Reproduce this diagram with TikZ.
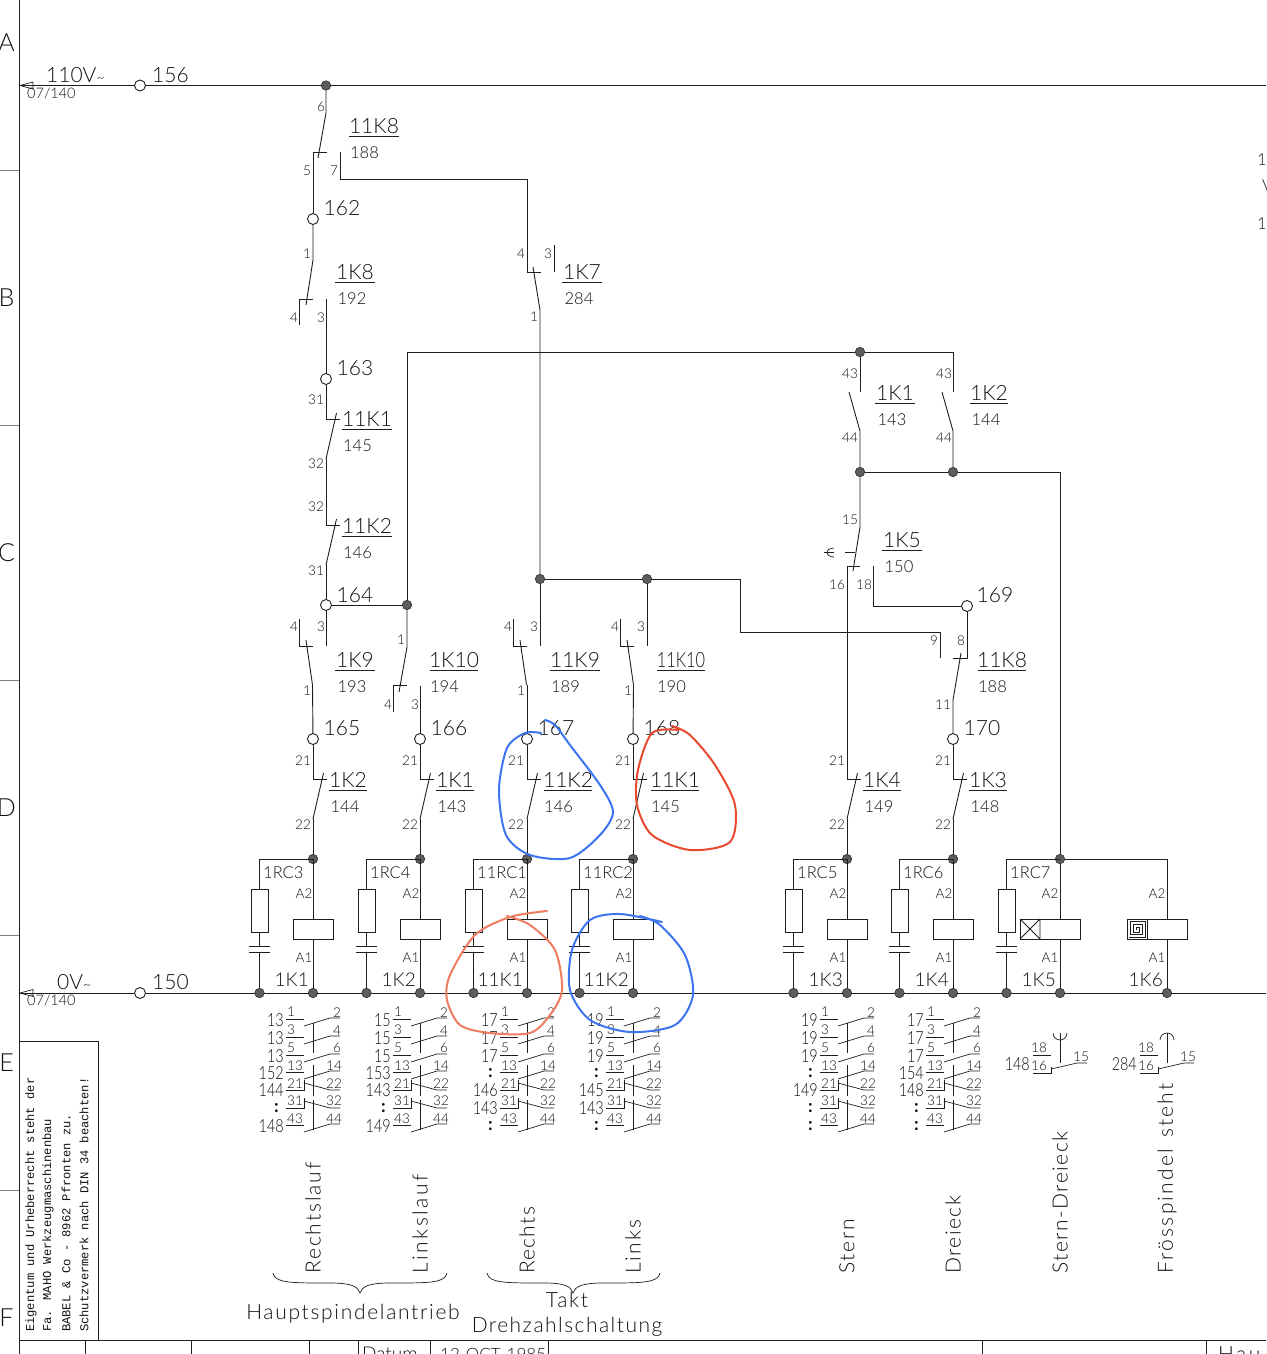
\documentclass[tikz,border=0pt]{standalone}
\usepackage{fontspec}
\usepackage{graphicx}
\setmainfont{Lato}[UprightFont=* Light,WordSpace=1.3]
\newfontfamily\cadmono{Liberation Mono}
\newfontfamily\cadreg{Lato}
\usetikzlibrary{calc}
\definecolor{ink}{HTML}{1E1E1E}
\definecolor{txt}{HTML}{111111}
\definecolor{hblue}{HTML}{3D74F0}
\definecolor{horange}{HTML}{E8492F}
\definecolor{hsalmon}{HTML}{EE7C60}
\tikzset{
  wire/.style={draw=ink,line width=0.9pt},
  thin wire/.style={draw=ink,line width=0.7pt},
  jn/.style={circle,draw=ink,fill=ink!72,line width=0.5pt,inner sep=0pt,minimum size=9.5pt},
  cir/.style={circle,draw=ink,fill=white,line width=0.9pt,inner sep=0pt,minimum size=11pt},
  box/.style={draw=ink,line width=0.9pt,fill=white},
  lbl/.style={inner sep=0pt,text=txt},
  big/.style={lbl,font=\fontsize{21}{21}\selectfont},
  mid/.style={lbl,font=\fontsize{16.5}{16.5}\selectfont},
  pin/.style={lbl,font=\fontsize{13.5}{13.5}\selectfont},
  coilname/.style={lbl,anchor=east,font=\fontsize{19}{19}\selectfont},
  blk/.style={lbl,font=\fontsize{18}{18}\selectfont\addfontfeatures{FakeStretch=0.8},anchor=east},
  hand/.style={line width=2pt,line cap=round,line join=round},
  wordv/.style={lbl,font=\fontsize{21}{21}\selectfont\addfontfeatures{LetterSpace=#1},rotate=90,anchor=west},
  wordh/.style={lbl,font=\fontsize{21}{21}\selectfont\addfontfeatures{LetterSpace=#1}},
  legal/.style={lbl,font=\cadmono\fontsize{12.1}{12.1}\selectfont,rotate=90,anchor=west},
}
\newcommand\cln{{\cadreg\bfseries:}\kern5pt}
\newcounter{tc}
% text: style, x, y, content
\newcommand\tx[4]{\stepcounter{tc}\node[#1] (t\arabic{tc}) at (#2,#3) {#4};}
% designation with underline and reference number: x, y, name, half-width, ref
\newcommand\desig[5]{\tx{big}{#1}{#2}{#3}
  \draw[thin wire] (#1-#4,#2+10.5) -- (#1+#4,#2+10.5);
  \pgfmathsetmacro\rx{#1-3-6.5*(#4>22)}
  \tx{mid}{\rx}{#2+26.5}{#5}}
% normally closed contact: x, y
\newcommand\nc[2]{\draw[wire] (#1,#2) -- ++(13.5,0);
  \draw[wire] (#1+10.5,#2-6) -- (#1,#2+40);}
% change-over contact, hanging from the wire at x; output at x-13.5
\newcommand\chg[2]{\draw[wire] (#1-27,#2-27) -- (#1-27,#2) -- (#1-13.5,#2);
  \draw[wire] (#1-20,#2-6) -- (#1-13.5,#2+39);}
\newcommand\rc[2]{% x, label
  \node[jn] (rcb#1) at (#1-53.5,993) {};
  \node[box,minimum width=17pt,minimum height=43pt,inner sep=0pt] (rcr#1) at (#1-53.5,911) {};
  \coordinate (rct#1) at (#1-53.5,859);
  \coordinate (capa#1) at (#1-53.5,946);
  \coordinate (capb#1) at (#1-53.5,952);
  \draw[wire] (#1,859) -- (rct#1) -- (rcr#1.north);
  \draw[wire] (rcr#1.south) -- (capa#1);
  \draw[wire] (capb#1) -- (rcb#1);
  \draw[wire] ($(capa#1)+(-10.5,0)$) -- ($(capa#1)+(10.5,0)$);
  \draw[wire] ($(capb#1)+(-10.5,0)$) -- ($(capb#1)+(10.5,0)$);
  \tx{mid,anchor=west}{#1-50}{873}{#2}}
\newcommand\coil[2]{% x, name
  \node[jn] (cb#1) at (#1,993) {};
  \node[box,minimum width=40pt,minimum height=20pt,inner sep=0pt] (coil#1) at (#1,929) {};
  \draw[wire] (#1,859) -- (coil#1.north);
  \draw[wire] (coil#1.south) -- (cb#1);
  \tx{pin}{#1-9}{894}{A2}
  \tx{pin}{#1-9}{958}{A1}
  \tx{coilname}{#1-4}{980}{#2}}
% auxiliary contact rows
\newcommand\noR[2]{%
  \draw[thin wire] (#1-27,#2) -- (#1-9,#2);
  \draw[thin wire] (#1-9,#2+7) -- (#1+17,#2-1) -- (#1+27,#2-1);}
\newcommand\ncR[2]{%
  \draw[thin wire] (#1-27,#2) -- (#1-9,#2) -- (#1-9,#2-10);
  \draw[thin wire] (#1-9,#2-7) -- (#1+17,#2) -- (#1+27,#2);}
\newcommand\aux[8]{% x, seven references
  \draw[thin wire] (#1,1023) -- (#1,1053) (#1,1065) -- (#1,1096) (#1,1100) -- (#1,1130);
  \noR{#1}{1019}\noR{#1}{1037}\noR{#1}{1055}\noR{#1}{1072}\ncR{#1}{1090}\ncR{#1}{1108}\noR{#1}{1125}
  \tx{pin}{#1-22}{1012}{1}\tx{pin}{#1-22}{1030}{3}\tx{pin}{#1-22}{1048}{5}
  \tx{pin}{#1-18}{1066}{13}\tx{pin}{#1-18}{1084}{21}\tx{pin}{#1-18}{1101}{31}\tx{pin}{#1-18}{1119}{43}
  \tx{pin}{#1+24}{1013}{2}\tx{pin}{#1+24}{1031}{4}\tx{pin}{#1+24}{1048}{6}
  \tx{pin}{#1+21}{1066}{14}\tx{pin}{#1+21}{1084}{22}\tx{pin}{#1+21}{1101}{32}\tx{pin}{#1+21}{1119}{44}
  \tx{blk}{#1-29}{1020}{#2}\tx{blk}{#1-29}{1038}{#3}\tx{blk}{#1-29}{1056}{#4}
  \tx{blk}{#1-29}{1073}{#5}\tx{blk}{#1-29}{1090}{#6}\tx{blk}{#1-29}{1108}{#7}\tx{blk}{#1-29}{1126}{#8}}
\newcommand\auxS[2]{% x, ref
  \draw[thin wire] (#1,1033) -- (#1,1063);
  \draw[thin wire] (#1-27,1055) -- (#1-9,1055);
  \draw[thin wire] (#1-27,1073) -- (#1-9,1073) -- (#1-9,1067);
  \draw[thin wire] (#1-9,1069) -- (#1+17,1063) -- (#1+27,1063);
  \tx{pin}{#1-21}{1048}{18}\tx{pin}{#1-21}{1066}{16}\tx{pin}{#1+21}{1057}{15}
  \tx{blk}{#1-30}{1064}{#2}}
\begin{document}
\begin{tikzpicture}[x=1pt,y=-1pt]
\useasboundingbox (0,0) rectangle (1266,1354);
\fill[white] (0,0) rectangle (1266,1354);

% ---------- frame
\draw[wire] (19,0) -- (19,1354);
\foreach \y in {170,425,680,935,1190} \draw[thin wire,gray] (0,\y) -- (19,\y);
\foreach \l/\y in {A/43,B/298,C/553,D/808,E/1063,F/1318}
  {\node[big,font=\fontsize{25}{25}\selectfont] (zone\l) at (6.5,\y) {\l};}
\draw[wire] (19,1340) -- (1266,1340);
\foreach \x in {85,191,309,358,430,548,982,1206} \draw[thin wire] (\x,1340) -- (\x,1354);
\draw[thin wire] (19,1041) -- (98,1041) -- (98,1340);
\tx{legal}{31}{1332}{Eigentum und Urheberrecht steht der}
\tx{legal}{48}{1332}{Fa. MAHO Werkzeugmaschinenbau}
\tx{legal}{66}{1332}{BABEL \& Co - 8962 Pfronten zu.}
\tx{legal}{84}{1332}{Schutzvermerk nach DIN 34 beachten!}
\tx{big,anchor=base west,font=\fontsize{19}{19}\selectfont}{362}{1360}{Datum}
\tx{big,anchor=base west,font=\fontsize{17}{17}\selectfont}{440}{1360}{12 OCT 1985}
\tx{wordh=12,anchor=base west}{1218}{1361}{Hau}
\tx{mid,anchor=west}{1257}{160}{13}
\tx{mid,anchor=west}{1262}{186}{V}
\tx{mid,anchor=west}{1257}{224}{14}

% ---------- rails
\node[cir] (c156) at (140,85.5) {};
\node[cir] (c150) at (140,993) {};
\coordinate (railTL) at (19,85.5);
\coordinate (railTR) at (1266,85.5);
\coordinate (railBL) at (19,993);
\coordinate (railBR) at (1266,993);
\draw[wire] (railTL) -- (c156) (c156) -- (railTR);
\draw[wire] (railBL) -- (c150) (c150) -- (railBR);
\draw[thin wire] (20,85.5) -- (33,82) -- (33,89) -- cycle;
\draw[thin wire] (20,993) -- (33,989.5) -- (33,996.5) -- cycle;
\tx{big,anchor=west}{46}{75}{110V{\fontsize{14}{14}\selectfont\textasciitilde}}
\tx{big,anchor=west}{152}{75}{156}
\tx{mid,anchor=west,font=\fontsize{14.5}{14.5}\selectfont}{27}{94}{07/140}
\tx{big,anchor=west}{57}{982}{0V{\fontsize{14}{14}\selectfont\textasciitilde}}
\tx{big,anchor=west}{152}{982}{150}
\tx{mid,anchor=west,font=\fontsize{14.5}{14.5}\selectfont}{27}{1001}{07/140}

% ---------- junctions and wire points
\node[jn] (j326) at (326,85.5) {};
\node[jn] (j407) at (407,605) {};
\node[jn] (j540) at (540,579) {};
\node[jn] (j647) at (647,579) {};
\node[jn] (j860a) at (860,352) {};
\node[jn] (j860b) at (860,472) {};
\node[jn] (j953) at (953,472) {};
\foreach \x in {313,420,527,633,847,953,1060} {\node[jn] (top\x) at (\x,859) {};}
\node[cir] (c162) at (313,219) {};
\node[cir] (c163) at (326,379) {};
\node[cir] (c164) at (326,605) {};
\node[cir] (c165) at (313,739) {};
\node[cir] (c166) at (420,739) {};
\node[cir] (c167) at (527,739) {};
\node[cir] (c168) at (633,739) {};
\node[cir] (c169) at (967,606) {};
\node[cir] (c170) at (953,739) {};
\tx{big}{342}{208}{162}
\tx{big}{355}{368}{163}
\tx{big}{355}{595}{164}
\tx{big}{342}{728}{165}
\tx{big}{449}{728}{166}
\tx{big}{556}{728}{167}
\tx{big}{662}{728}{168}
\tx{big}{995}{595}{169}
\tx{big}{982}{728}{170}

% ---------- first column
\draw[wire] (j326) -- (326,113) -- (318,158);
\draw[wire] (313,152) -- (327,152);
\draw[wire] (313,152) -- (c162);
\draw[wire] (c162) -- (313,260) -- (306,305);
\draw[wire] (313,299) -- (299.5,299) -- (299.5,325);
\draw[wire] (326,299) -- (c163);
\draw[wire] (c163) -- (326,419);
\nc{326}{419}
\draw[wire] (326,459) -- (326,525);
\nc{326}{525}
\draw[wire] (326,565) -- (c164);
\draw[wire] (340,152) -- (340,179) -- (527,179) -- (527,272) -- (541,272);
\draw[wire] (533,267) -- (540,310) -- (j540);
\draw[wire] (554,245) -- (554,272);
\draw[wire] (c164) -- (j407);
\draw[wire] (j407) |- (j860a);
\draw[wire] (j860a) -| (953,392);
% -------- 3/4 contacts
\draw[wire] (c164) -- (326,646);
\chg{326}{646}
\draw[wire] (312.5,685) -- (c165);
\draw[wire] (c165) -- (313,779); \nc{313}{779} \draw[wire] (313,819) -- (top313);
\draw[wire] (j407) -- (407,647) -- (399,692);
\draw[wire] (407,685.5) -- (393,685.5) -- (393,712);
\draw[wire] (420,685.5) -- (c166);
\draw[wire] (c166) -- (420,779); \nc{420}{779} \draw[wire] (420,819) -- (top420);
\draw[wire] (j540) -- (540,646);
\chg{540}{646}
\draw[wire] (527,685) -- (c167);
\draw[wire] (c167) -- (527,779); \nc{527}{779} \draw[wire] (527,819) -- (top527);
\draw[wire] (j647) -- (647,646);
\chg{647}{646}
\draw[wire] (633.5,685) -- (c168);
\draw[wire] (c168) -- (633,779); \nc{633}{779} \draw[wire] (633,819) -- (top633);
\draw[wire] (j540) -- (j647);
\draw[wire] (j647) -- (740,579) -- (740,632) -- (940,632) -- (940,658);
% -------- right part
\draw[wire] (j860a) -- (860,392);
\draw[wire] (849,392) -- (860,431) -- (j860b);
\draw[wire] (942,392) -- (953,431) -- (j953);
\draw[wire] (j860b) -- (j953);
\draw[wire] (j953) -- (1060,472) -- (top1060);
\draw[wire] (j860b) -- (860,527) -- (853,571);
\draw[wire] (860,566) -- (847,566) -- (847,779);
\nc{847}{779} \draw[wire] (847,819) -- (top847);
\draw[wire] (845,552) -- (855,552);
\draw[thin wire] (834,548) arc[start angle=270,end angle=90,x radius=7,y radius=4.5];
\draw[thin wire] (824,552.5) -- (834,552.5);
\draw[wire] (873,566) -- (873,606) -- (c169);
\draw[wire] (c169) -- (967,658) -- (953,658);
\draw[wire] (961,653) -- (953,700) -- (c170);
\draw[wire] (c170) -- (953,779); \nc{953}{779} \draw[wire] (953,819) -- (top953);

% ---------- designations
\desig{374}{126}{11K8}{25}{188}
\desig{355}{272}{1K8}{20}{192}
\desig{582}{272}{1K7}{20}{284}
\desig{367}{419}{11K1}{25}{145}
\desig{367}{526}{11K2}{25}{146}
\desig{355}{660}{1K9}{20}{193}
\desig{454}{660}{1K10}{24}{194}
\desig{575}{660}{11K9}{25}{189}
\desig{681}{660}{\scalebox{.78}[1]{11K10}}{24}{190}
\desig{1002}{660}{11K8}{24}{188}
\desig{895}{393}{1K1}{20}{143}
\desig{989}{393}{1K2}{19}{144}
\desig{902}{540}{1K5}{20}{150}
\desig{348}{780}{1K2}{19}{144}
\desig{455}{780}{1K1}{19}{143}
\desig{568}{780}{11K2}{24}{146}
\desig{675}{780}{11K1}{24}{145}
\desig{882}{780}{1K4}{19}{149}
\desig{988}{780}{1K3}{19}{148}

% ---------- pin numbers
\tx{pin}{321}{107}{6}\tx{pin}{307}{171}{5}\tx{pin}{334}{171}{7}
\tx{pin}{307}{254}{1}\tx{pin}{294}{318}{4}\tx{pin}{321}{318}{3}
\tx{pin}{521}{254}{4}\tx{pin}{548}{254}{3}\tx{pin}{534}{317}{1}
\tx{pin}{316}{400}{31}\tx{pin}{316}{464}{32}\tx{pin}{316}{507}{32}\tx{pin}{316}{571}{31}
\tx{pin}{294}{627}{4}\tx{pin}{321}{627}{3}\tx{pin}{307}{691}{1}
\tx{pin}{401}{640}{1}\tx{pin}{388}{705}{4}\tx{pin}{415}{705}{3}
\tx{pin}{508}{627}{4}\tx{pin}{534}{627}{3}\tx{pin}{521}{691}{1}
\tx{pin}{615}{627}{4}\tx{pin}{641}{627}{3}\tx{pin}{628}{691}{1}
\foreach \x in {303,410,516,623,837,943} {\tx{pin}{\x}{761}{21}\tx{pin}{\x}{825}{22}}
\tx{pin}{850}{374}{43}\tx{pin}{850}{438}{44}
\tx{pin}{944}{374}{43}\tx{pin}{944}{438}{44}
\tx{pin}{850}{520}{15}\tx{pin}{837}{585}{16}\tx{pin}{864}{585}{18}
\tx{pin}{934}{641}{9}\tx{pin}{961}{641}{8}\tx{pin}{943}{705}{11}

% ---------- coils
\rc{313}{1RC3}\coil{313}{1K1}
\rc{420}{1RC4}\coil{420}{1K2}
\rc{527}{11RC1}\coil{527}{11K1}
\rc{633}{11RC2}\coil{633}{11K2}
\rc{847}{1RC5}\coil{847}{1K3}
\rc{953}{1RC6}\coil{953}{1K4}
\rc{1060}{1RC7}
\node[jn] (cb1060) at (1060,993) {};
\node[box,minimum width=60pt,minimum height=20pt,inner sep=0pt] (coil1060) at (1050,929) {};
\draw[wire] (top1060) -- (coil1060.north -| top1060);
\draw[wire] (coil1060.south -| top1060) -- (cb1060);
\draw[wire] (1040,919) -- (1040,939) (1020,919) -- (1040,939) (1020,939) -- (1040,919);
\tx{pin}{1050}{894}{A2}\tx{pin}{1050}{958}{A1}
\tx{coilname}{1056}{980}{1K5}
\coordinate (top1167) at (1167,859);
\node[jn] (cb1167) at (1167,993) {};
\node[box,minimum width=60pt,minimum height=20pt,inner sep=0pt] (coil1167) at (1157,929) {};
\draw[wire] (top1060) -- (top1167) -- (coil1167.north -| top1167);
\draw[wire] (coil1167.south -| top1167) -- (cb1167);
\draw[wire] (1147,919) -- (1147,939);
\draw[thin wire] (1129,937) -- (1145,937) -- (1145,921) -- (1130,921) -- (1130,934.5) -- (1142,934.5) -- (1142,924) -- (1133,924) -- (1133,932) -- (1139,932) -- (1139,927) -- (1136,927) -- (1136,929.5);
\tx{pin}{1157}{894}{A2}\tx{pin}{1157}{958}{A1}
\tx{coilname}{1163}{980}{1K6}

% ---------- auxiliary contacts
\aux{313}{13}{13}{13}{152}{144}{\cln}{148}
\aux{420}{15}{15}{15}{153}{143}{\cln}{149}
\aux{527}{17}{17}{17}{\cln}{146}{143}{\cln}
\aux{633}{19}{19}{19}{\cln}{145}{143}{\cln}
\aux{847}{19}{19}{19}{\cln}{149}{\cln}{\cln}
\aux{953}{17}{17}{17}{154}{148}{\cln}{\cln}
\auxS{1060}{148}
\draw[thin wire] (1053,1033) arc[start angle=180,end angle=0,radius=7];
\auxS{1167}{284}
\draw[thin wire] (1160,1040) arc[start angle=180,end angle=360,radius=7];

% ---------- words
\tx{wordv=9}{313}{1274}{Rechtslauf}
\tx{wordv=12}{420}{1274}{Linkslauf}
\tx{wordv=6}{527}{1274}{Rechts}
\tx{wordv=10}{633}{1274}{Links}
\tx{wordv=8}{847}{1274}{Stern}
\tx{wordv=7}{953}{1274}{Dreieck}
\tx{wordv=7}{1060}{1274}{Stern-Dreieck}
\tx{wordv=11}{1167}{1274}{Frösspindel steht}
\draw[thin wire] (273,1273) .. controls (275,1283) and (290,1283) .. (330,1283) .. controls (350,1283) and (358,1286) .. (360,1293) .. controls (362,1286) and (370,1283) .. (390,1283) .. controls (430,1283) and (445,1283) .. (447,1273);
\draw[thin wire] (487,1273) .. controls (489,1283) and (504,1283) .. (544,1283) .. controls (564,1283) and (571,1286) .. (573,1293) .. controls (575,1286) and (583,1283) .. (603,1283) .. controls (643,1283) and (658,1283) .. (660,1273);
\tx{wordh=8}{353}{1314}{Hauptspindelantrieb}
\tx{wordh=8}{567}{1300}{Takt}
\tx{wordh=7}{567}{1327}{Drehzahlschaltung}

% ---------- hand-drawn marks
\draw[hand,hblue] plot[smooth] coordinates {(541,733) (525,733) (507,748) (499,790) (506,835) (530,855) (570,858) (600,835) (613,812) (600,785) (570,745) (555,725) (545,720)};
\draw[hand,horange] plot[smooth] coordinates {(678,730) (652,733) (638,770) (637,805) (652,835) (690,850) (730,842) (735,805) (715,765) (690,735) (672,726)};
\draw[hand,hsalmon] plot[smooth] coordinates {(547,911) (510,917) (475,935) (450,975) (447,1000) (460,1025) (490,1033) (530,1033) (550,1015) (562,990) (555,950) (530,925) (507,916)};
\draw[hand,hblue] plot[smooth] coordinates {(662,922) (620,914) (590,920) (572,950) (570,990) (590,1020) (630,1032) (675,1025) (693,995) (685,955) (660,925) (640,916)};
\end{tikzpicture}
\end{document}
